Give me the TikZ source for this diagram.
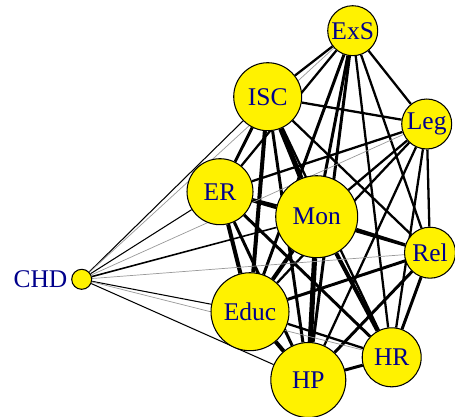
\documentclass[tikz,border=0pt]{standalone}
\usepackage{fontspec}
\setmainfont{Liberation Serif}
\usetikzlibrary{positioning,backgrounds}
\definecolor{labelblue}{RGB}{0,0,139}
\tikzset{
  var/.style={circle,draw,line width=0.6pt,fill=yellow,inner sep=0pt,
    text=labelblue,font=\fontsize{14.5}{14.5}\selectfont},
  weak/.style={line width=0.4pt,gray!80},
}
\begin{document}
\begin{tikzpicture}[x=0.02cm,y=-0.02cm]
                \useasboundingbox (0,0) rectangle (455,416);
                %% variables
                \node[var,minimum size=1cm] (ExS) at (352.7,30.7) {ExS};
                \node[var,minimum size=1.36cm] (ISC) at (267.7,96.7) {ISC};
                \node[var,minimum size=1cm] (Leg) at (426.7,124) {Leg};
                \node[var,minimum size=1.32cm] (ER) at (220,191.7) {ER};
                \node[var,minimum size=1.64cm] (Mon) at (316.7,216.7) {Mon};
                \node[var,minimum size=1.02cm] (Rel) at (430,252.7) {Rel};
                \node[var,minimum size=1.56cm] (Educ) at (250,311.7) {Educ};
                \node[var,minimum size=1.18cm] (HR) at (391.7,357.3) {HR};
                \node[var,minimum size=1.5cm] (HP) at (308.3,380) {HP};
                \node[var,minimum size=0.4cm] (CHD) at (81.7,279.3) {};
                %% label
                \node[text=labelblue,font=\fontsize{14.5}{14.5}\selectfont,left=1pt of CHD,inner sep=1pt] (chdlabel) {CHD};
                %% links
                \begin{scope}[on background layer]
                \foreach \a/\b in {ExS/ISC,ExS/Leg,ExS/ER,ExS/HR,ExS/Rel,ISC/Leg,ISC/HR,ISC/Rel,
                  Leg/ER,Leg/Mon,Leg/Educ,Leg/HP,Leg/HR,Leg/Rel,ER/Rel,Educ/HR}
                  \draw[line width=1.3pt] (\a) -- (\b);
                \foreach \a/\b in {ExS/Mon,ExS/Educ,ExS/HP,ISC/ER,ISC/HP,ER/HP,ER/HR,Mon/Rel,
                  Educ/Rel,HP/HR,HP/Rel,HR/Rel}
                  \draw[line width=1.7pt] (\a) -- (\b);
                \foreach \a/\b in {ISC/Educ,ER/Mon,ER/Educ,Mon/Educ,Mon/HR,Educ/HP}
                  \draw[line width=2.3pt] (\a) -- (\b);
                \foreach \a/\b in {ISC/Mon,Mon/HP}
                  \draw[line width=2.9pt] (\a) -- (\b);
                \foreach \b in {ISC,ER,Educ,HP}
                  \draw[line width=0.6pt] (CHD) -- (\b);
                \draw[line width=0.9pt] (CHD) -- (Mon);
                \foreach \b in {ExS,Leg,Rel,HR}
                  \draw[weak] (CHD) -- (\b);
                \end{scope}
            \end{tikzpicture}
\end{document}
